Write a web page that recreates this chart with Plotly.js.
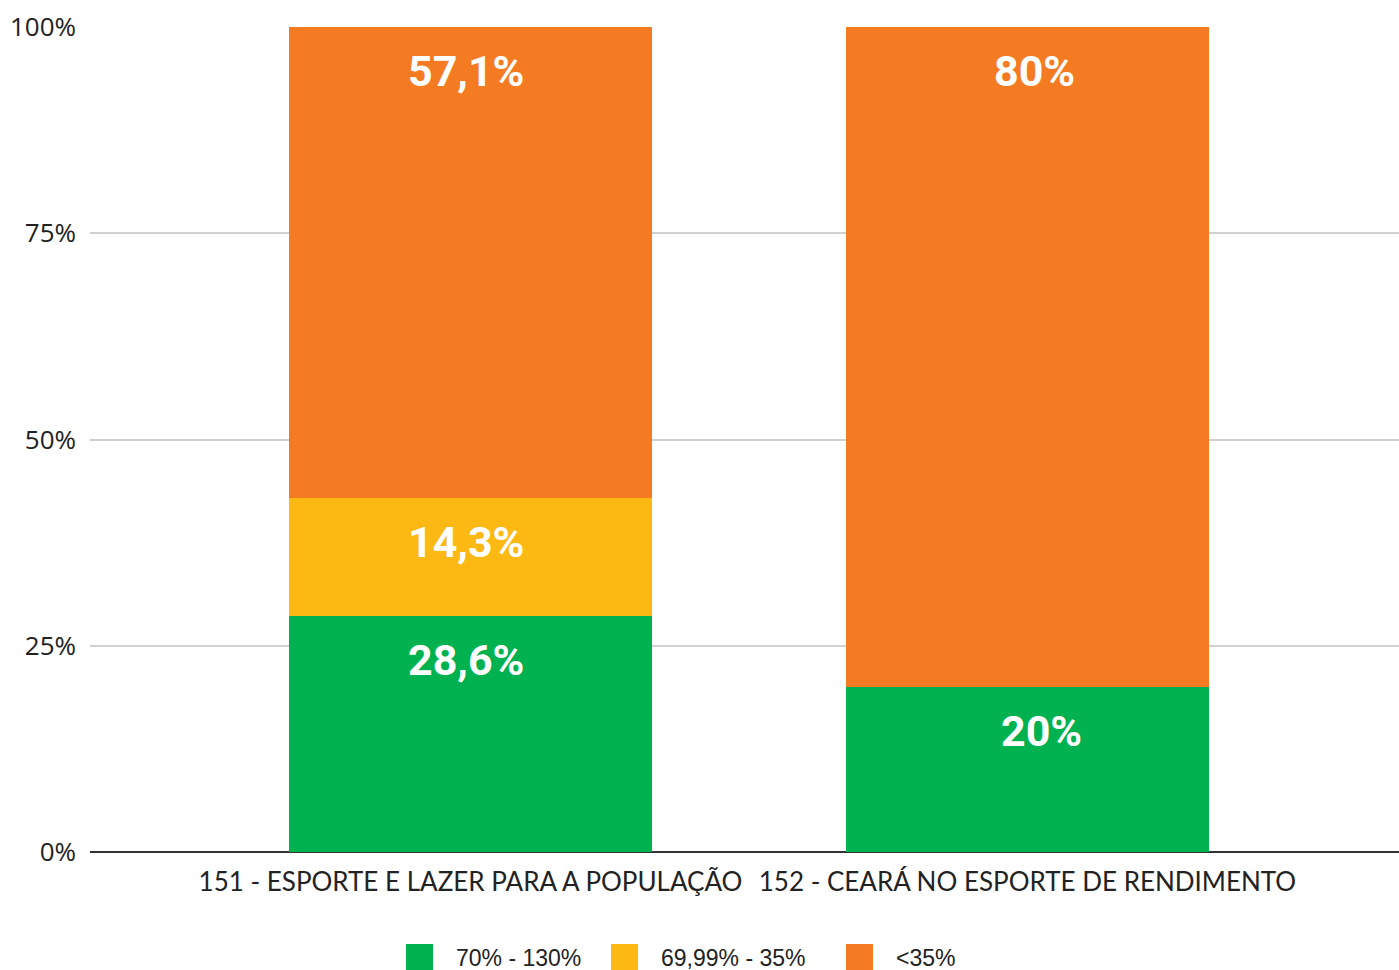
<!DOCTYPE html>
<html><head><meta charset="utf-8">
<script src="https://cdn.plot.ly/plotly-3.0.1.min.js"></script>
<style>html,body{margin:0;padding:0;background:#fff}#chart{width:1399px;height:970px}</style>
</head><body><div id="chart"></div>
<script>
const categories = ["151 - ESPORTE E LAZER PARA A POPULAÇÃO", "152 - CEARÁ NO ESPORTE DE RENDIMENTO"];
const seriesNames = ["70% - 130%", "69,99% - 35%", "<35%"];
const greenVals = [28.6, 20];
const yellowVals = [14.3, 0];
const orangeVals = [57.1, 80];
const yTicks = [0, 25, 50, 75, 100];
const colors = ["#00b24f", "#fdb913", "#f47b22"];

const series = [greenVals, yellowVals, orangeVals];
const fmt = v => String(v).replace('.', ',') + '%';

const traces = series.map((vals, i) => ({
  type: 'bar', x: [0, 1], y: vals, name: seriesNames[i],
  marker: {color: colors[i], line: {width: 0}},
  width: 0.652, showlegend: false, hoverinfo: 'skip'
}));

// small horizontal label nudges per category, per series (layout styling)
const labelXShift = [[-4, 14], [-4, 0], [-4, 7]];

const annotations = [];
const cum = [0, 0];
series.forEach((vals, i) => {
  vals.forEach((v, j) => {
    cum[j] += v;
    if (v > 0) {
      annotations.push({
        x: j, y: cum[j], xref: 'x', yref: 'y', text: fmt(v), showarrow: false,
        yanchor: 'middle', yshift: -44, xshift: labelXShift[i][j],
        font: {family: 'Roboto', size: 43, color: '#ffffff', weight: 'bold'}
      });
    }
  });
});

// custom legend
const shapes = [];
const legendX = [406, 611, 846];
seriesNames.forEach((n, i) => {
  shapes.push({type: 'rect', xref: 'paper', yref: 'paper',
    x0: (legendX[i] - 90) / 1309, x1: (legendX[i] + 27 - 90) / 1309,
    y0: -(944 - 852) / 825, y1: -(975 - 852) / 825,
    fillcolor: colors[i], line: {width: 0}});
  annotations.push({xref: 'paper', yref: 'paper',
    x: (legendX[i] + 48 - 90) / 1309, y: -(958 - 852) / 825,
    xanchor: 'left', yanchor: 'middle', text: n, showarrow: false,
    font: {family: 'Liberation Sans', size: 23, color: '#222'}});
});

const layout = {
  width: 1399, height: 970,
  margin: {l: 90, r: 0, t: 27, b: 118},
  paper_bgcolor: '#fff', plot_bgcolor: '#fff',
  barmode: 'stack',
  showlegend: false,
  xaxis: {
    range: [-0.683, 1.667], tickvals: [0, 1], ticktext: categories,
    showgrid: false, zeroline: false, showline: false, ticks: '',
    ticklabelstandoff: 12,
    tickfont: {family: 'Lato', size: 26, color: '#222'}
  },
  yaxis: {
    range: [0, 100], tickvals: yTicks, ticktext: yTicks.map(v => v + '%'),
    showgrid: true, gridcolor: '#d0d0d0', gridwidth: 2,
    zeroline: true, zerolinecolor: '#333', zerolinewidth: 2,
    ticks: '', ticklabelstandoff: 13,
    tickfont: {family: 'Open Sans', size: 26, color: '#222'}
  },
  annotations: annotations,
  shapes: shapes
};

Plotly.newPlot('chart', traces, layout, {displayModeBar: false, staticPlot: true});
</script></body></html>
